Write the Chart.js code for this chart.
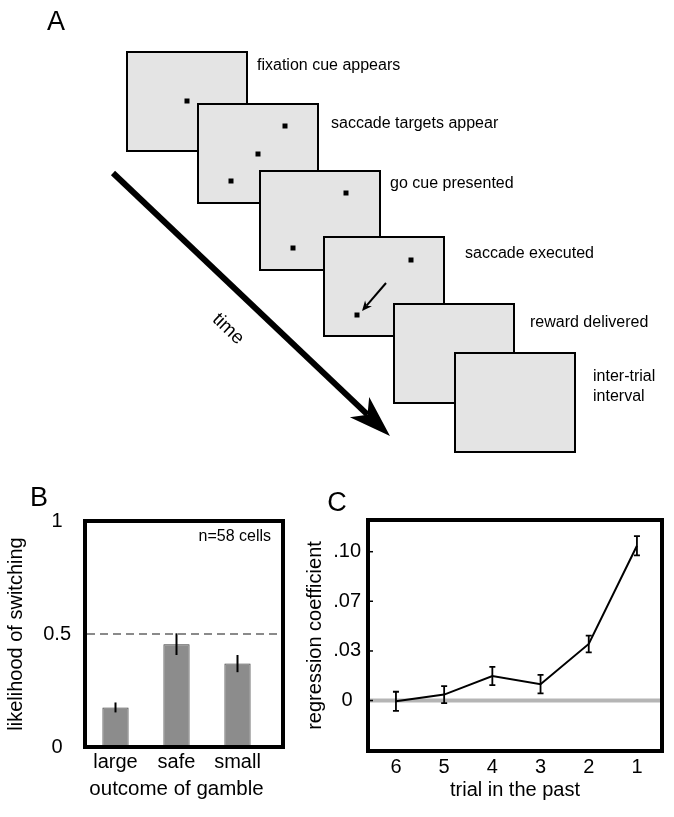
<!DOCTYPE html>
<html>
<head>
<meta charset="utf-8">
<script src="https://cdn.jsdelivr.net/npm/chart.js@4.4.1/dist/chart.umd.min.js"></script>
<style>
  html, body { margin: 0; padding: 0; background: #fff; }
  #wrap { position: relative; width: 674px; height: 817px; overflow: hidden; }
  canvas { position: absolute; }
  #panelA { left: 0; top: 0; width: 674px; height: 470px; }
  #panelB { left: 0; top: 470px; width: 330px; height: 347px; }
  #panelC { left: 290px; top: 470px; width: 384px; height: 347px; }
</style>
</head>
<body>
<div id="wrap">
  <canvas id="panelA" width="674" height="470"></canvas>
  <canvas id="panelB" width="330" height="347"></canvas>
  <canvas id="panelC" width="384" height="347"></canvas>
</div>
<script>
// panel B: switching likelihood by gamble outcome
const outcomeLabels = ['large', 'safe', 'small'];
const switchLikelihood = [0.175, 0.455, 0.369];
const switchErr = [0.022, 0.048, 0.038];
const likelihoodTickLabels = { 0: '0', 0.5: '0.5', 1: '1' };

// panel C: regression on past trials
const trialsBack = [6, 5, 4, 3, 2, 1];
const regressionCoef = [-0.0005, 0.004, 0.0165, 0.011, 0.038, 0.104];
const regressionErr = [0.0064, 0.0057, 0.0061, 0.0062, 0.0056, 0.0065];
const coefTickValues = [0, 0.0333, 0.0667, 0.1];
const coefTickLabels = ['0', '.03', '.07', '.10'];

// panel A: task sequence text
const stepLabels = [
    ['fixation cue appears'],
    ['saccade targets appear'],
    ['go cue presented'],
    ['saccade executed'],
    ['reward delivered'],
    ['inter-trial', 'interval']
];

const FONT = "'Liberation Sans', Arial, Helvetica, sans-serif";
Chart.defaults.font.family = FONT;
Chart.defaults.color = '#000';

// screen layout for the schematic (pixels)
const screens = [
    { x: 127, y: 52, lx: 257, ly: 66, dots: [[187, 101]] },
    { x: 198, y: 104, lx: 331, ly: 124, dots: [[285, 126], [258, 154], [231, 181]] },
    { x: 260, y: 171, lx: 390, ly: 184, dots: [[346, 193], [293, 248]] },
    { x: 324, y: 237, lx: 465, ly: 254, dots: [[411, 260], [357, 315]] },
    { x: 394, y: 304, lx: 530, ly: 323, dots: [] },
    { x: 455, y: 353, lx: 593, ly: 377, dots: [] }
];

function drawArrow(ctx, x0, y0, x1, y1, lw, headLen, headHalf, notch) {
    const a = Math.atan2(y1 - y0, x1 - x0);
    const c = Math.cos(a), s = Math.sin(a);
    const nx = x1 - c * notch, ny = y1 - s * notch;
    ctx.beginPath();
    ctx.moveTo(x0, y0);
    ctx.lineTo(nx, ny);
    ctx.lineWidth = lw;
    ctx.lineCap = 'butt';
    ctx.stroke();
    const bx = x1 - c * headLen, by = y1 - s * headLen;
    ctx.beginPath();
    ctx.moveTo(x1, y1);
    ctx.lineTo(bx - s * headHalf, by + c * headHalf);
    ctx.lineTo(nx, ny);
    ctx.lineTo(bx + s * headHalf, by - c * headHalf);
    ctx.closePath();
    ctx.fill();
}

const schematic = {
    id: 'schematic',
    afterDraw(chart) {
        const ctx = chart.ctx;
        const X = v => chart.scales.x.getPixelForValue(v);
        const Y = v => chart.scales.y.getPixelForValue(v);
        ctx.save();
        ctx.fillStyle = '#000';
        ctx.font = '27px ' + FONT;
        ctx.textAlign = 'center';
        ctx.textBaseline = 'middle';
        ctx.fillText('A', X(56), Y(23));

        screens.forEach((sc, i) => {
            ctx.fillStyle = '#e4e4e4';
            ctx.fillRect(X(sc.x), Y(sc.y), 120, 99);
            ctx.strokeStyle = '#000';
            ctx.lineWidth = 2;
            ctx.strokeRect(X(sc.x), Y(sc.y), 120, 99);
            ctx.fillStyle = '#000';
            sc.dots.forEach(d => ctx.fillRect(X(d[0]) - 2.5, Y(d[1]) - 2.5, 5, 5));
            ctx.font = '16px ' + FONT;
            ctx.textAlign = 'left';
            stepLabels[i].forEach((t, k) => ctx.fillText(t, X(sc.lx), Y(sc.ly + k * 20)));
        });

        ctx.strokeStyle = '#000';
        ctx.fillStyle = '#000';
        drawArrow(ctx, X(386), Y(283), X(362), Y(311), 2, 10, 4.5, 7);
        drawArrow(ctx, X(113), Y(173), X(390), Y(436), 6, 42, 14, 31);

        ctx.save();
        ctx.translate(X(228), Y(329));
        ctx.rotate(43.5 * Math.PI / 180);
        ctx.font = '19px ' + FONT;
        ctx.textAlign = 'center';
        ctx.fillText('time', 0, 0);
        ctx.restore();
        ctx.restore();
    }
};

new Chart(document.getElementById('panelA'), {
    type: 'scatter',
    data: { datasets: [] },
    options: {
        responsive: false,
        animation: false,
        layout: { padding: 0 },
        plugins: { legend: { display: false }, tooltip: { enabled: false } },
        scales: {
            x: { type: 'linear', min: 0, max: 674, display: false },
            y: { type: 'linear', min: 0, max: 470, reverse: true, display: false }
        }
    },
    plugins: [schematic]
});

const FRAME_EXTRA_B = 15;

const panelBDecor = {
    id: 'panelBDecor',
    afterDatasetsDraw(chart) {
        const ctx = chart.ctx;
        const area = chart.chartArea;
        const ys = chart.scales.y;
        const meta = chart.getDatasetMeta(0);
        ctx.save();
        // chance line
        ctx.strokeStyle = '#8a8a8a';
        ctx.lineWidth = 2;
        ctx.setLineDash([8, 5]);
        ctx.beginPath();
        ctx.moveTo(area.left + 2, ys.getPixelForValue(0.5));
        ctx.lineTo(area.right + FRAME_EXTRA_B - 2, ys.getPixelForValue(0.5));
        ctx.stroke();
        ctx.setLineDash([]);
        // error bars
        ctx.strokeStyle = '#000';
        ctx.lineWidth = 2;
        meta.data.forEach((bar, i) => {
            ctx.beginPath();
            ctx.moveTo(bar.x, ys.getPixelForValue(switchLikelihood[i] - switchErr[i]));
            ctx.lineTo(bar.x, ys.getPixelForValue(switchLikelihood[i] + switchErr[i]));
            ctx.stroke();
        });
        // frame
        ctx.lineWidth = 4;
        ctx.strokeRect(area.left, area.top, area.right + FRAME_EXTRA_B - area.left, area.bottom - area.top);
        ctx.fillStyle = '#000';
        ctx.font = '16px ' + FONT;
        ctx.textAlign = 'right';
        ctx.textBaseline = 'middle';
        ctx.fillText('n=58 cells', area.right + FRAME_EXTRA_B - 12, area.top + 16);
        ctx.font = '27px ' + FONT;
        ctx.textAlign = 'center';
        ctx.fillText('B', 39, 29);
        ctx.restore();
    }
};

new Chart(document.getElementById('panelB'), {
    type: 'bar',
    data: {
        labels: outcomeLabels,
        datasets: [{
            data: switchLikelihood,
            backgroundColor: '#8c8c8c',
            borderColor: '#3a3a3a',
            borderWidth: 1,
            barPercentage: 0.43,
            categoryPercentage: 1
        }]
    },
    options: {
        responsive: false,
        animation: false,
        layout: { padding: { left: 0, top: 51, right: 62, bottom: 0 } },
        plugins: { legend: { display: false }, tooltip: { enabled: false } },
        scales: {
            x: {
                grid: { display: false, drawTicks: false },
                border: { display: false },
                ticks: { padding: 3, font: { size: 20 }, maxRotation: 0 },
                title: { display: true, text: 'outcome of gamble', font: { size: 20.5 }, padding: { top: 0, bottom: 15 } },
                afterFit: s => { s.height = 70; }
            },
            y: {
                min: 0,
                max: 1,
                grid: { display: false, drawTicks: false },
                border: { display: false },
                ticks: {
                    stepSize: 0.5,
                    crossAlign: 'center',
                    padding: 14,
                    font: { size: 20 },
                    callback: v => likelihoodTickLabels[v]
                },
                title: { display: true, text: 'likelihood of switching', font: { size: 20 }, padding: { top: 4, bottom: 0 } },
                afterFit: s => { s.width = 85; }
            }
        }
    },
    plugins: [panelBDecor]
});

const panelCDecor = {
    id: 'panelCDecor',
    beforeDatasetsDraw(chart) {
        const ctx = chart.ctx;
        const area = chart.chartArea;
        const y0 = chart.scales.y.getPixelForValue(0);
        ctx.save();
        ctx.strokeStyle = '#b5b5b5';
        ctx.lineWidth = 4;
        ctx.beginPath();
        ctx.moveTo(area.left + 2, y0);
        ctx.lineTo(area.right - 2, y0);
        ctx.stroke();
        ctx.restore();
    },
    afterDatasetsDraw(chart) {
        const ctx = chart.ctx;
        const area = chart.chartArea;
        const xs = chart.scales.x, ys = chart.scales.y;
        ctx.save();
        ctx.strokeStyle = '#000';
        ctx.lineWidth = 1.8;
        trialsBack.forEach((t, i) => {
            const x = xs.getPixelForValue(t);
            const lo = ys.getPixelForValue(regressionCoef[i] - regressionErr[i]);
            const hi = ys.getPixelForValue(regressionCoef[i] + regressionErr[i]);
            ctx.beginPath();
            ctx.moveTo(x, lo); ctx.lineTo(x, hi);
            ctx.moveTo(x - 3, lo); ctx.lineTo(x + 3, lo);
            ctx.moveTo(x - 3, hi); ctx.lineTo(x + 3, hi);
            ctx.stroke();
        });
        // inner tick marks
        ctx.lineWidth = 1.5;
        coefTickValues.forEach(v => {
            const y = ys.getPixelForValue(v);
            ctx.beginPath();
            ctx.moveTo(area.left, y);
            ctx.lineTo(area.left + 5, y);
            ctx.stroke();
        });
        ctx.lineWidth = 4;
        ctx.strokeRect(area.left, area.top, area.right - area.left, area.bottom - area.top);
        ctx.fillStyle = '#000';
        ctx.font = '27px ' + FONT;
        ctx.textAlign = 'center';
        ctx.textBaseline = 'middle';
        ctx.fillText('C', 47, 34);
        ctx.restore();
    }
};

new Chart(document.getElementById('panelC'), {
    type: 'line',
    data: {
        datasets: [{
            data: trialsBack.map((t, i) => ({ x: t, y: regressionCoef[i] })),
            borderColor: '#000',
            borderWidth: 2,
            pointRadius: 0,
            tension: 0,
            fill: false
        }]
    },
    options: {
        responsive: false,
        animation: false,
        layout: { padding: { left: 0, top: 50, right: 12, bottom: 0 } },
        plugins: { legend: { display: false }, tooltip: { enabled: false } },
        scales: {
            x: {
                type: 'linear',
                reverse: true,
                min: 0.48,
                max: 6.58,
                grid: { display: false, drawTicks: false },
                border: { display: false },
                afterBuildTicks: s => { s.ticks = trialsBack.map(v => ({ value: v })); },
                ticks: { padding: 4, font: { size: 20 }, maxRotation: 0, autoSkip: false, callback: v => String(v) },
                title: { display: true, text: 'trial in the past', font: { size: 20 }, padding: { top: 0, bottom: 15 } },
                afterFit: s => { s.height = 66; }
            },
            y: {
                type: 'linear',
                min: -0.0339,
                max: 0.1213,
                grid: { display: false, drawTicks: false },
                border: { display: false },
                afterBuildTicks: s => { s.ticks = coefTickValues.map(v => ({ value: v })); },
                ticks: { crossAlign: 'center', padding: 7, font: { size: 20 }, autoSkip: false, callback: (v, i) => coefTickLabels[i] },
                title: { display: true, text: 'regression coefficient', font: { size: 20 }, padding: { top: 13, bottom: 0 } },
                afterFit: s => { s.width = 78; }
            }
        }
    },
    plugins: [panelCDecor]
});
</script>
</body>
</html>
